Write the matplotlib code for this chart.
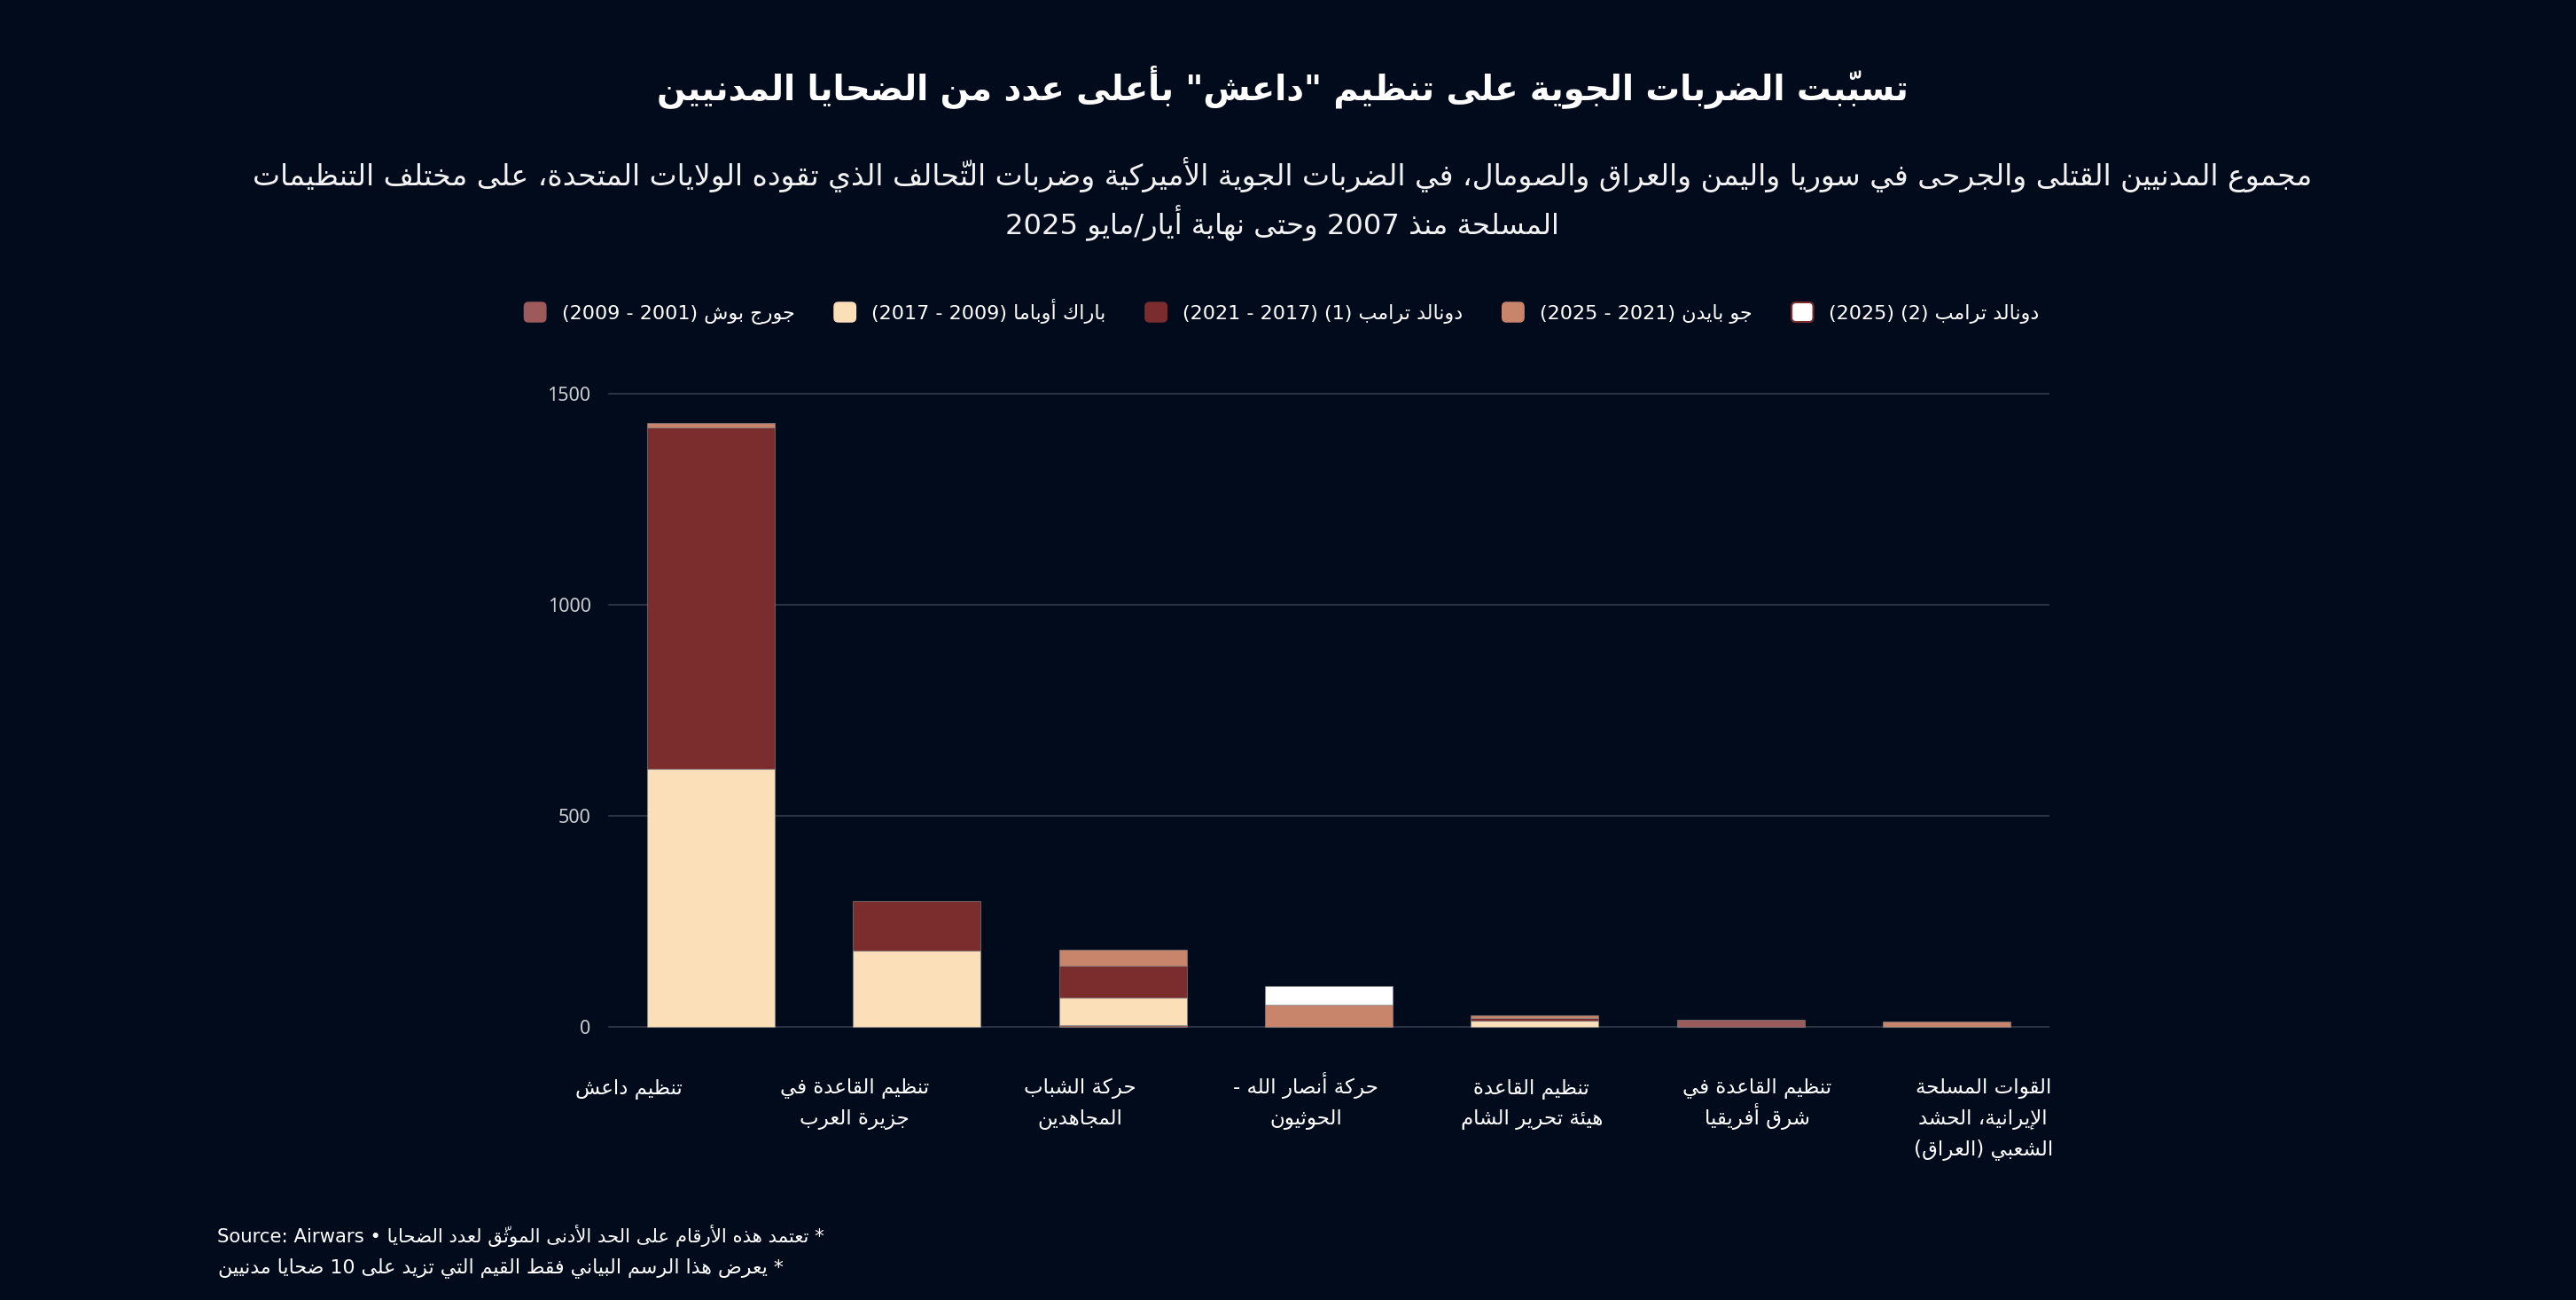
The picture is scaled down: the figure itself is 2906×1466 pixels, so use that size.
import re
import numpy as np
import matplotlib
matplotlib.use("Agg")
from matplotlib import pyplot as plt
from matplotlib.patches import Patch, FancyBboxPatch
from matplotlib.legend_handler import HandlerPatch

# ---- data ----
groups = ["تنظيم داعش", "تنظيم القاعدة في\nجزيرة العرب", "حركة الشباب\nالمجاهدين",
          "حركة أنصار الله -\nالحوثيون", "تنظيم القاعدة\nهيئة تحرير الشام",
          "تنظيم القاعدة في\nشرق أفريقيا", "القوات المسلحة\nالإيرانية، الحشد\nالشعبي (العراق)"]
presidents = ["جورج بوش (2001 - 2009)", "باراك أوباما (2009 - 2017)",
              "دونالد ترامب (1) (2017 - 2021)", "جو بايدن (2021 - 2025)",
              "دونالد ترامب (2) (2025)"]
bush = [0, 0, 5, 0, 0, 17, 0]
obama = [612, 181, 66, 0, 15, 0, 0]
trump1 = [809, 118, 74, 0, 6, 0, 0]
biden = [10, 0, 39, 53, 6, 0, 13]
trump2 = [0, 0, 0, 45, 0, 0, 0]
yticks = [0, 500, 1000, 1500]

title = "تسبّبت الضربات الجوية على تنظيم \"داعش\" بأعلى عدد من الضحايا المدنيين"
subtitle1 = "مجموع المدنيين القتلى والجرحى في سوريا واليمن والعراق والصومال، في الضربات الجوية الأميركية وضربات التّحالف الذي تقوده الولايات المتحدة، على مختلف التنظيمات"
subtitle2 = "المسلحة منذ 2007 وحتى نهاية أيار/مايو 2025"
note1 = "* تعتمد هذه الأرقام على الحد الأدنى الموثّق لعدد الضحايا • Source: Airwars"
note2 = "* يعرض هذا الرسم البياني فقط القيم التي تزيد على 10 ضحايا مدنيين"

BG = "#020b1c"
colors = ["#9c5b5a", "#fbdfb9", "#7b2d2e", "#c9846c", "#ffffff"]

# ---- minimal arabic shaping + rtl ordering (matplotlib does no shaping) ----
HARAKAT = set(chr(c) for c in range(0x064B, 0x0653))
DUAL = {'ئ': 0xFE89, 'ب': 0xFE8F, 'ت': 0xFE95, 'ث': 0xFE99, 'ج': 0xFE9D, 'ح': 0xFEA1,
        'خ': 0xFEA5, 'س': 0xFEB1, 'ش': 0xFEB5, 'ص': 0xFEB9, 'ض': 0xFEBD, 'ط': 0xFEC1,
        'ظ': 0xFEC5, 'ع': 0xFEC9, 'غ': 0xFECD, 'ف': 0xFED1, 'ق': 0xFED5, 'ك': 0xFED9,
        'ل': 0xFEDD, 'م': 0xFEE1, 'ن': 0xFEE5, 'ه': 0xFEE9, 'ي': 0xFEF1}
RIGHT = {'آ': 0xFE81, 'أ': 0xFE83, 'ؤ': 0xFE85, 'إ': 0xFE87, 'ا': 0xFE8D, 'ة': 0xFE93,
         'د': 0xFEA9, 'ذ': 0xFEAB, 'ر': 0xFEAD, 'ز': 0xFEAF, 'و': 0xFEED, 'ى': 0xFEEF}
LAM_ALEF = {'آ': 0xFEF5, 'أ': 0xFEF7, 'إ': 0xFEF9, 'ا': 0xFEFB}
LTR = re.compile(r'[A-Za-z0-9]+(?:[ :.]+[A-Za-z0-9]+)*')
MIRROR = {'(': ')', ')': '('}


def shape(s):
    n = len(s)

    def near(i, step):
        j = i + step
        while 0 <= j < n and s[j] in HARAKAT:
            j += step
        return j

    out, skip = [], set()
    for i, ch in enumerate(s):
        if i in skip:
            continue
        if ch in DUAL or ch in RIGHT:
            p = near(i, -1)
            joins_prev = p >= 0 and s[p] in DUAL
            nx = near(i, 1)
            if ch == 'ل' and nx < n and s[nx] in LAM_ALEF:
                out.append(chr(LAM_ALEF[s[nx]] + (1 if joins_prev else 0)))
                skip.add(nx)
                continue
            joins_next = ch in DUAL and nx < n and (s[nx] in DUAL or s[nx] in RIGHT)
            form = {(True, True): 3, (True, False): 1, (False, True): 2, (False, False): 0}[(joins_prev, joins_next)]
            out.append(chr(DUAL.get(ch, RIGHT.get(ch)) + form))
        else:
            out.append(ch)
    return ''.join(out)


def rtl_reverse(seg):
    clusters = []
    for ch in seg:
        if ch in HARAKAT and clusters:
            clusters[-1] = ch + clusters[-1]   # mark goes before its base in visual order
        else:
            clusters.append(MIRROR.get(ch, ch))
    return ''.join(reversed(clusters))


def ar(text):
    lines = []
    for line in text.split('\n'):
        s = shape(line)
        parts, pos = [], 0
        for m in LTR.finditer(s):
            if m.start() > pos:
                parts.append(rtl_reverse(s[pos:m.start()]))
            parts.append(m.group())
            pos = m.end()
        if pos < len(s):
            parts.append(rtl_reverse(s[pos:]))
        lines.append(''.join(reversed(parts)))
    return '\n'.join(lines)


W, H = 2906, 1466
def fx(x):
    return x / W
def fy(y):
    return 1 - y / H

fig = plt.figure(figsize=(W / 100, H / 100), dpi=100, facecolor=BG)
unit = (1158.3 - 444.3) / 1500
y0, y1 = -6, 1506
ax_bottom = 1158.3 - y0 * unit
ax_top = 444.3 - (y1 - 1500) * unit
ax = fig.add_axes([fx(686), fy(ax_bottom), (2312 - 686) / W, (ax_bottom - ax_top) / H])
ax.set_facecolor(BG)

x = np.arange(len(groups))
series = [bush, obama, trump1, biden, trump2]
bottom = np.zeros(len(groups))
for vals, col in zip(series, colors):
    vals = np.array(vals, dtype=float)
    keep = vals > 0
    ax.bar(x[keep], vals[keep], bottom=bottom[keep], width=0.62, color=col,
           edgecolor=(0.55, 0.55, 0.55, 0.55), linewidth=0.8, zorder=3)
    bottom += vals

ax.set_xlim(-0.5, 6.5)
ax.set_ylim(y0, y1)
ax.set_yticks(yticks)
ax.set_yticklabels([str(v) for v in yticks], family="Noto Sans", fontsize=15.5, color="#c9cdd2")
ax.tick_params(axis='y', length=0, pad=14)
ax.set_xticks([])
ax.yaxis.grid(True, color="#2a3140", linewidth=1.5)
ax.set_axisbelow(True)
for sp in ax.spines.values():
    sp.set_visible(False)

AR = ["DejaVu Sans"]

# category labels (they sit on their own even spacing in the original), one line at a time
for i, g in enumerate(groups):
    for k, line in enumerate(g.split('\n')):
        fig.text(fx(709 + 254.7 * i), fy(1233 + 35 * k), ar(line), ha='center', va='baseline',
                 family=AR, fontsize=16.5, color='white')

# titles
t_title = fig.text(fx(1447), fy(98), ar(title), ha='center', va='center', family=AR,
                   fontsize=30, weight='bold', color='white')
t_sub1 = fig.text(fx(1447), fy(197), ar(subtitle1), ha='center', va='center', family=AR,
                  fontsize=21, color='#f2f2f2')
t_sub2 = fig.text(fx(1446), fy(252), ar(subtitle2), ha='center', va='center', family=AR,
                  fontsize=21, color='#f2f2f2')

# footnotes
t_n1 = fig.text(fx(245), fy(1393), ar(note1), ha='left', va='center', family=AR,
                fontsize=14, color='white')
t_n2 = fig.text(fx(246), fy(1430), ar(note2), ha='left', va='center', family=AR,
                fontsize=14, color='white')


def rounded(legend, orig_handle, xdescent, ydescent, width, height, fontsize):
    return FancyBboxPatch((-xdescent, -ydescent), width, height,
                          boxstyle="round,pad=0,rounding_size=%f" % (height * 0.22))


handles = [Patch(facecolor=c, edgecolor=c) for c in colors]
handles[-1] = Patch(facecolor=colors[-1], edgecolor=colors[2], linewidth=1.5)
fig.legend(handles, [ar(p) for p in presidents], loc='center',
           bbox_to_anchor=(fx(1446), fy(351)), ncol=5, frameon=False,
           prop={'family': AR, 'size': 16}, labelcolor='white',
           handlelength=1.1, handleheight=1.15, handletextpad=0.8, columnspacing=2.0,
           handler_map={Patch: HandlerPatch(patch_func=rounded)})

# match text widths measured on the original
r = fig.canvas.get_renderer()
for t, target in [(t_title, 1412), (t_sub1, 2320), (t_sub2, 623), (t_n1, 695), (t_n2, 645)]:
    w = t.get_window_extent(r).width
    t.set_fontsize(t.get_fontsize() * target / w)

fig.savefig("out.png", dpi=100, facecolor=BG)
